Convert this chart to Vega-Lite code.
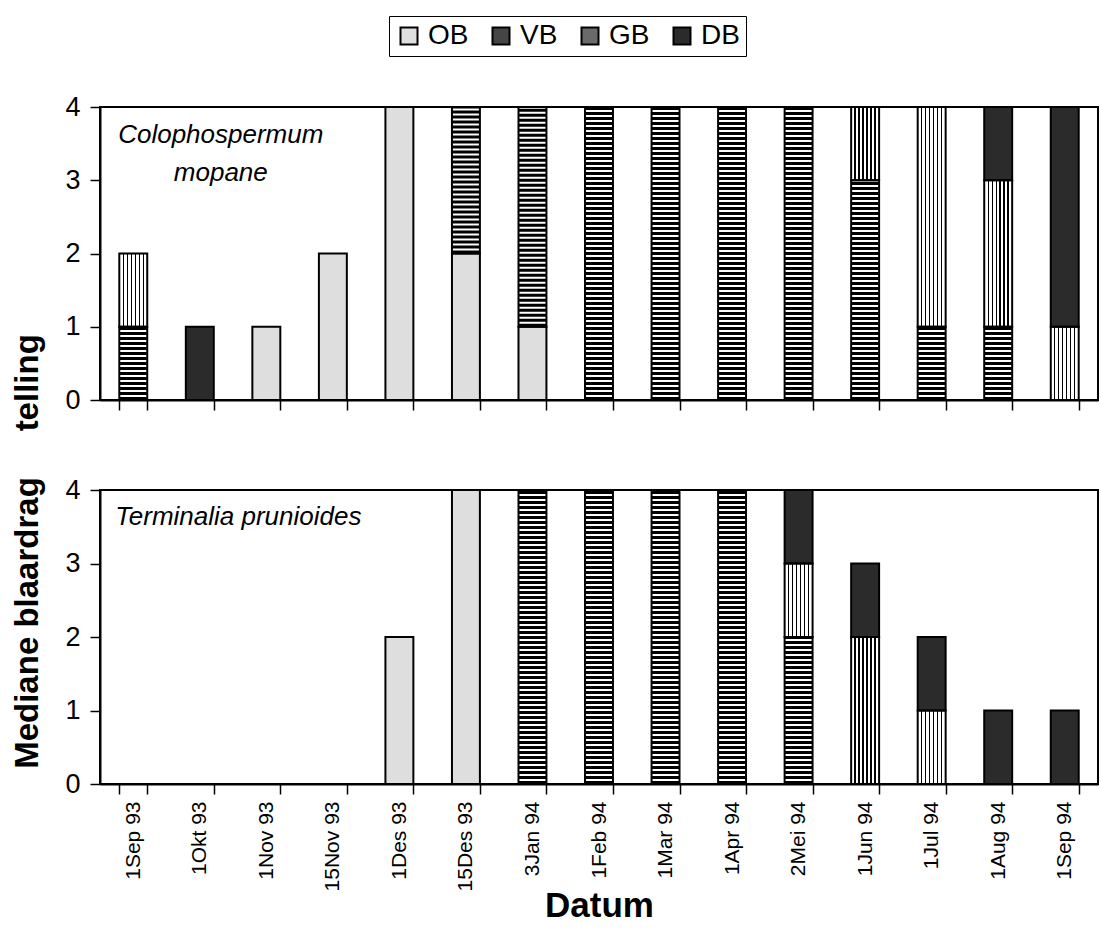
{
  "$schema": "https://vega.github.io/schema/vega-lite/v6.json",
  "padding": {"left": 10, "top": 14, "right": 0, "bottom": 0},
  "background": "white",
  "config": {
    "font": "Liberation Sans",
    "view": {"stroke": "#000", "strokeWidth": 2},
    "axis": {"domainColor": "#000", "domainWidth": 2, "tickColor": "#000", "tickWidth": 1.5, "labelColor": "#000", "titleColor": "#000", "grid": false, "labelFont": "Liberation Sans", "titleFont": "Liberation Sans"},
    "legend": {"labelFont": "Liberation Sans"}
  },
  "datasets": {
    "leaf": [
      {"species": "C", "date": "1Sep 93", "stage": "VB", "n": 1},
      {"species": "C", "date": "1Sep 93", "stage": "GB", "n": 1},
      {"species": "C", "date": "1Okt 93", "stage": "DB", "n": 1},
      {"species": "C", "date": "1Nov 93", "stage": "OB", "n": 1},
      {"species": "C", "date": "15Nov 93", "stage": "OB", "n": 2},
      {"species": "C", "date": "1Des 93", "stage": "OB", "n": 4},
      {"species": "C", "date": "15Des 93", "stage": "OB", "n": 2},
      {"species": "C", "date": "15Des 93", "stage": "VB", "n": 2},
      {"species": "C", "date": "3Jan 94", "stage": "OB", "n": 1},
      {"species": "C", "date": "3Jan 94", "stage": "VB", "n": 3},
      {"species": "C", "date": "1Feb 94", "stage": "VB", "n": 4},
      {"species": "C", "date": "1Mar 94", "stage": "VB", "n": 4},
      {"species": "C", "date": "1Apr 94", "stage": "VB", "n": 4},
      {"species": "C", "date": "2Mei 94", "stage": "VB", "n": 4},
      {"species": "C", "date": "1Jun 94", "stage": "VB", "n": 3},
      {"species": "C", "date": "1Jun 94", "stage": "GB", "n": 1},
      {"species": "C", "date": "1Jul 94", "stage": "VB", "n": 1},
      {"species": "C", "date": "1Jul 94", "stage": "GB", "n": 3},
      {"species": "C", "date": "1Aug 94", "stage": "VB", "n": 1},
      {"species": "C", "date": "1Aug 94", "stage": "GB", "n": 2},
      {"species": "C", "date": "1Aug 94", "stage": "DB", "n": 1},
      {"species": "C", "date": "1Sep 94", "stage": "GB", "n": 1},
      {"species": "C", "date": "1Sep 94", "stage": "DB", "n": 3},
      {"species": "T", "date": "1Des 93", "stage": "OB", "n": 2},
      {"species": "T", "date": "15Des 93", "stage": "OB", "n": 4},
      {"species": "T", "date": "3Jan 94", "stage": "VB", "n": 4},
      {"species": "T", "date": "1Feb 94", "stage": "VB", "n": 4},
      {"species": "T", "date": "1Mar 94", "stage": "VB", "n": 4},
      {"species": "T", "date": "1Apr 94", "stage": "VB", "n": 4},
      {"species": "T", "date": "2Mei 94", "stage": "VB", "n": 2},
      {"species": "T", "date": "2Mei 94", "stage": "GB", "n": 1},
      {"species": "T", "date": "2Mei 94", "stage": "DB", "n": 1},
      {"species": "T", "date": "1Jun 94", "stage": "GB", "n": 2},
      {"species": "T", "date": "1Jun 94", "stage": "DB", "n": 1},
      {"species": "T", "date": "1Jul 94", "stage": "GB", "n": 1},
      {"species": "T", "date": "1Jul 94", "stage": "DB", "n": 1},
      {"species": "T", "date": "1Aug 94", "stage": "DB", "n": 1},
      {"species": "T", "date": "1Sep 94", "stage": "DB", "n": 1}
    ]
  },
  "vconcat": [
    {
      "width": 998,
      "height": 293,
      "data": {"name": "leaf"},
      "transform": [
        {"filter": "datum.species === 'C'"},
        {"calculate": "indexof(['OB','VB','GB','DB'], datum.stage)", "as": "rank"},
        {"stack": "n", "groupby": ["date"], "sort": [{"field": "rank", "order": "ascending"}], "as": ["y0", "y1"]}
      ],
      "layer": [
        {
          "mark": {"type": "bar"},
          "encoding": {
            "x": {"field": "date", "type": "nominal", "sort": null,
              "scale": {"domain": ["1Sep 93", "1Okt 93", "1Nov 93", "15Nov 93", "1Des 93", "15Des 93", "3Jan 94", "1Feb 94", "1Mar 94", "1Apr 94", "2Mei 94", "1Jun 94", "1Jul 94", "1Aug 94", "1Sep 94"], "paddingInner": 0.58, "paddingOuter": 0.29},
              "axis": {"labels": false, "title": null, "ticks": true, "tickBand": "extent", "tickSize": 10}},
            "y": {"field": "y0", "type": "quantitative",
              "scale": {"domain": [0, 4], "nice": false},
              "axis": {"values": [0, 1, 2, 3, 4], "format": "d", "tickSize": 10, "labelFontSize": 27, "labelPadding": 10,
                "title": "Mediane blaardrag\u00a0\u00a0\u00a0\u00a0\u00a0telling", "titleFontSize": 33, "titleFontWeight": "bold",
                "titleX": -73, "titleY": 444, "titleAngle": -90, "titleBaseline": "middle", "titleAlign": "center"}},
            "y2": {"field": "y1"},
            "fill": {
              "field": "stage", "type": "nominal",
              "scale": {"domain": ["OB", "VB", "GB", "DB"], "range": ["#dedede", "#454545", "#6a6a6a", "#2b2b2b"]},
              "condition": [
                {"test": "datum.stage === 'VB'", "value": "#ffffff"},
                {"test": "datum.stage === 'GB'", "value": {"gradient": "linear", "x1": 0, "y1": 0, "x2": 1, "y2": 0, "stops": [
                  {"offset": 0, "color": "#fff"},
                  {"offset": 0.118, "color": "#fff"}, {"offset": 0.118, "color": "#000"}, {"offset": 0.168, "color": "#000"}, {"offset": 0.168, "color": "#fff"},
                  {"offset": 0.261, "color": "#fff"}, {"offset": 0.261, "color": "#000"}, {"offset": 0.311, "color": "#000"}, {"offset": 0.311, "color": "#fff"},
                  {"offset": 0.404, "color": "#fff"}, {"offset": 0.404, "color": "#000"}, {"offset": 0.454, "color": "#000"}, {"offset": 0.454, "color": "#fff"},
                  {"offset": 0.546, "color": "#fff"}, {"offset": 0.546, "color": "#000"}, {"offset": 0.596, "color": "#000"}, {"offset": 0.596, "color": "#fff"},
                  {"offset": 0.689, "color": "#fff"}, {"offset": 0.689, "color": "#000"}, {"offset": 0.739, "color": "#000"}, {"offset": 0.739, "color": "#fff"},
                  {"offset": 0.832, "color": "#fff"}, {"offset": 0.832, "color": "#000"}, {"offset": 0.882, "color": "#000"}, {"offset": 0.882, "color": "#fff"},
                  {"offset": 1, "color": "#fff"}]}}
              ],
              "legend": {
                "orient": "none", "legendX": 289, "legendY": -91, "direction": "horizontal", "title": null,
                "labelFontSize": 28, "labelOffset": 5, "columnPadding": 18, "symbolType": "square", "symbolSize": 289,
                "symbolStrokeColor": "#000", "symbolStrokeWidth": 2, "padding": 6, "strokeColor": "#000", "labelColor": "#000"
              }
            }
          }
        },
        {
          "transform": [{"filter": "datum.stage === 'VB'"}],
          "mark": {"type": "rule", "strokeWidth": 27, "strokeDash": [3, 2], "color": "#000"},
          "encoding": {
            "x": {"field": "date", "type": "nominal"},
            "y": {"field": "y0", "type": "quantitative"},
            "y2": {"field": "y1"}
          }
        },
        {
          "mark": {"type": "bar", "fillOpacity": 0, "stroke": "#000", "strokeWidth": 2},
          "encoding": {
            "x": {"field": "date", "type": "nominal"},
            "y": {"field": "y0", "type": "quantitative"},
            "y2": {"field": "y1"}
          }
        },
        {
          "data": {"values": [{"label": "Colophospermum\nmopane"}]},
          "mark": {"type": "text", "font": "Liberation Sans", "fontSize": 26, "fontStyle": "italic", "align": "center", "baseline": "alphabetic", "lineBreak": "\n", "lineHeight": 38, "dx": 21, "color": "#000"},
          "encoding": {
            "x": {"datum": "1Okt 93", "type": "nominal"},
            "y": {"datum": 3.51, "type": "quantitative"},
            "text": {"field": "label"}
          }
        }
      ]
    },
    {
      "width": 998,
      "height": 294,
      "data": {"name": "leaf"},
      "transform": [
        {"filter": "datum.species === 'T'"},
        {"calculate": "indexof(['OB','VB','GB','DB'], datum.stage)", "as": "rank"},
        {"stack": "n", "groupby": ["date"], "sort": [{"field": "rank", "order": "ascending"}], "as": ["y0", "y1"]}
      ],
      "layer": [
        {
          "mark": {"type": "bar"},
          "encoding": {
            "x": {"field": "date", "type": "nominal", "sort": null,
              "scale": {"domain": ["1Sep 93", "1Okt 93", "1Nov 93", "15Nov 93", "1Des 93", "15Des 93", "3Jan 94", "1Feb 94", "1Mar 94", "1Apr 94", "2Mei 94", "1Jun 94", "1Jul 94", "1Aug 94", "1Sep 94"], "paddingInner": 0.58, "paddingOuter": 0.29},
              "axis": {"labelAngle": -90, "labelFontSize": 21, "labelPadding": 7, "tickBand": "extent", "tickSize": 10,
                "title": "Datum", "titleFontSize": 35, "titleFontWeight": "bold", "titleY": 132, "titleBaseline": "alphabetic"}},
            "y": {"field": "y0", "type": "quantitative",
              "scale": {"domain": [0, 4], "nice": false},
              "axis": {"values": [0, 1, 2, 3, 4], "format": "d", "tickSize": 10, "labelFontSize": 27, "labelPadding": 10, "title": null}},
            "y2": {"field": "y1"},
            "fill": {
              "field": "stage", "type": "nominal",
              "scale": {"domain": ["OB", "VB", "GB", "DB"], "range": ["#dedede", "#ffffff", "#ffffff", "#2b2b2b"]},
              "condition": {"test": "datum.stage === 'GB'", "value": {"gradient": "linear", "x1": 0, "y1": 0, "x2": 1, "y2": 0, "stops": [
                {"offset": 0, "color": "#fff"},
                {"offset": 0.118, "color": "#fff"}, {"offset": 0.118, "color": "#000"}, {"offset": 0.168, "color": "#000"}, {"offset": 0.168, "color": "#fff"},
                {"offset": 0.261, "color": "#fff"}, {"offset": 0.261, "color": "#000"}, {"offset": 0.311, "color": "#000"}, {"offset": 0.311, "color": "#fff"},
                {"offset": 0.404, "color": "#fff"}, {"offset": 0.404, "color": "#000"}, {"offset": 0.454, "color": "#000"}, {"offset": 0.454, "color": "#fff"},
                {"offset": 0.546, "color": "#fff"}, {"offset": 0.546, "color": "#000"}, {"offset": 0.596, "color": "#000"}, {"offset": 0.596, "color": "#fff"},
                {"offset": 0.689, "color": "#fff"}, {"offset": 0.689, "color": "#000"}, {"offset": 0.739, "color": "#000"}, {"offset": 0.739, "color": "#fff"},
                {"offset": 0.832, "color": "#fff"}, {"offset": 0.832, "color": "#000"}, {"offset": 0.882, "color": "#000"}, {"offset": 0.882, "color": "#fff"},
                {"offset": 1, "color": "#fff"}]}},
              "legend": null
            }
          }
        },
        {
          "transform": [{"filter": "datum.stage === 'VB'"}],
          "mark": {"type": "rule", "strokeWidth": 27, "strokeDash": [3, 2], "color": "#000"},
          "encoding": {
            "x": {"field": "date", "type": "nominal"},
            "y": {"field": "y0", "type": "quantitative"},
            "y2": {"field": "y1"}
          }
        },
        {
          "mark": {"type": "bar", "fillOpacity": 0, "stroke": "#000", "strokeWidth": 2},
          "encoding": {
            "x": {"field": "date", "type": "nominal"},
            "y": {"field": "y0", "type": "quantitative"},
            "y2": {"field": "y1"}
          }
        },
        {
          "data": {"values": [{"label": "Terminalia prunioides"}]},
          "mark": {"type": "text", "font": "Liberation Sans", "fontSize": 26, "fontStyle": "italic", "align": "left", "baseline": "alphabetic", "dx": -18, "color": "#000"},
          "encoding": {
            "x": {"datum": "1Sep 93", "type": "nominal"},
            "y": {"datum": 3.53, "type": "quantitative"},
            "text": {"field": "label"}
          }
        }
      ]
    }
  ],
  "spacing": 90,
  "bounds": "flush",
  "resolve": {"scale": {"fill": "independent"}, "legend": {"fill": "independent"}}
}
